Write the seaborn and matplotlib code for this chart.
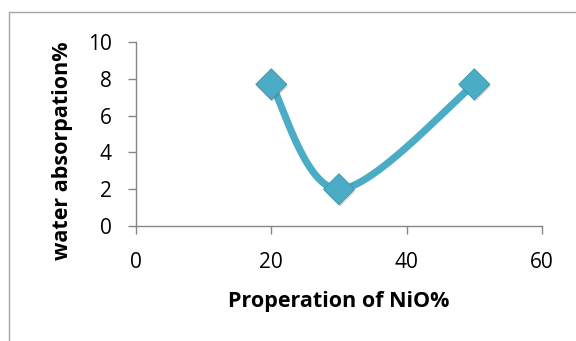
import numpy as np
import pandas as pd
import seaborn as sns
import matplotlib
matplotlib.use("Agg")
import matplotlib.pyplot as plt
from matplotlib.lines import Line2D
import matplotlib.patheffects as pe

# NiO proportion (%) vs. water absorption (%)
nio_pct = [20, 30, 50]
water_abs = [7.7, 2.0, 7.7]

x_ticks = [0, 20, 40, 60]
y_ticks = [0, 2, 4, 6, 8, 10]

COLOR = "#4BACC6"
EDGE = "#3f91a8"
AXIS_GRAY = "#868686"

sns.set_theme(style="white")
plt.rcParams["font.family"] = ["Open Sans", "DejaVu Sans"]


def smooth_curve(xs, ys, n=80):
    """Cubic Bezier smoothing through the points (Catmull-Rom, tension 1/6)."""
    pts = np.column_stack([xs, ys]).astype(float)
    out = []
    m = len(pts)
    for i in range(m - 1):
        p0 = pts[max(i - 1, 0)]
        p1 = pts[i]
        p2 = pts[i + 1]
        p3 = pts[min(i + 2, m - 1)]
        c1 = p1 + (p2 - p0) / 6.0
        c2 = p2 - (p3 - p1) / 6.0
        t = np.linspace(0, 1, n)[:, None]
        seg = ((1 - t) ** 3) * p1 + 3 * ((1 - t) ** 2) * t * c1 \
            + 3 * (1 - t) * t ** 2 * c2 + t ** 3 * p2
        if i > 0:
            seg = seg[1:]
        out.append(seg)
    out = np.vstack(out)
    return out[:, 0], out[:, 1]


cx, cy = smooth_curve(nio_pct, water_abs)
curve = pd.DataFrame({"x": cx, "y": cy, "order": np.arange(len(cx))})
points = pd.DataFrame({"nio": nio_pct, "water": water_abs})

fig = plt.figure(figsize=(5.76, 3.41), dpi=100)
ax = fig.add_axes([136 / 576, 1 - 226 / 341, (542 - 136) / 576, (226 - 42) / 341])

sns.lineplot(data=curve, x="x", y="y", sort=False, estimator=None,
             color=COLOR, linewidth=5.2, solid_capstyle="round", ax=ax, zorder=2)
sns.scatterplot(data=points, x="nio", y="water", marker="D", s=250,
                color=COLOR, edgecolor=EDGE, linewidth=0.6, ax=ax, zorder=3,
                path_effects=[pe.SimplePatchShadow(offset=(0.6, -1.4), alpha=0.25,
                                                   shadow_rgbFace="#555555"),
                              pe.Normal()])

ax.set_xlim(0, 60)
ax.set_ylim(0, 10)
ax.set_xticks(x_ticks)
ax.set_yticks(y_ticks)
ax.set_xticklabels([str(v) for v in x_ticks])
ax.set_yticklabels([str(v) for v in y_ticks])

for side in ["top", "right"]:
    ax.spines[side].set_visible(False)
for side in ["left", "bottom"]:
    ax.spines[side].set_color(AXIS_GRAY)
    ax.spines[side].set_linewidth(1.0)

ax.tick_params(axis="both", which="major", direction="out", length=5.5,
               width=1.0, color=AXIS_GRAY, labelsize=15, labelcolor="black",
               bottom=True, left=True)
ax.tick_params(axis="y", pad=12)
ax.tick_params(axis="x", pad=13)

ax.set_xlabel("Properation of NiO%", fontsize=15.5, fontweight="bold", color="black")
ax.set_ylabel("water absorpation%", fontsize=15.5, fontweight="bold", color="black")
ax.xaxis.set_label_coords(0.5, -0.352)
ax.yaxis.set_label_coords(-0.155, 0.408)
ax.grid(False)

# Chart-area frame (only top and left edges fall inside the image)
W, H = 576, 341
fig.add_artist(Line2D([9 / W, 1.0], [1 - 12 / H, 1 - 12 / H], transform=fig.transFigure,
                      color="#a6a6a6", linewidth=1.0))
fig.add_artist(Line2D([9 / W, 9 / W], [0.0, 1 - 12 / H], transform=fig.transFigure,
                      color="#a6a6a6", linewidth=1.0))

fig.savefig("out.png", dpi=100, facecolor="white")
